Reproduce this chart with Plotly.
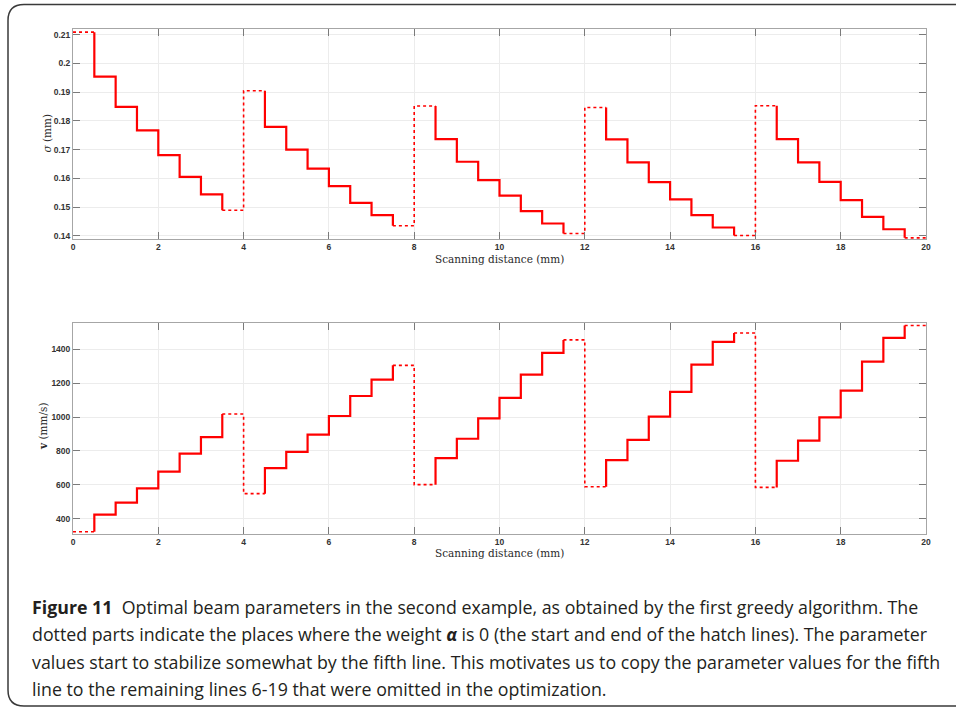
import plotly.graph_objects as go

# ---------------- data ----------------
segment_starts = [0.0, 0.5, 1.0, 1.5, 2.0, 2.5, 3.0, 3.5, 4.0, 4.5,
                  5.0, 5.5, 6.0, 6.5, 7.0, 7.5, 8.0, 8.5, 9.0, 9.5,
                  10.0, 10.5, 11.0, 11.5, 12.0, 12.5, 13.0, 13.5, 14.0, 14.5,
                  15.0, 15.5, 16.0, 16.5, 17.0, 17.5, 18.0, 18.5, 19.0, 19.5]
segment_end = 20.0

sigma_mm = [0.2109, 0.1954, 0.1849, 0.1767, 0.1681, 0.1605, 0.1544, 0.1489,
            0.1905, 0.1779, 0.1700, 0.1634, 0.1573, 0.1515, 0.1472, 0.1435,
            0.1852, 0.1737, 0.1658, 0.1594, 0.1540, 0.1486, 0.1443, 0.1408,
            0.1847, 0.1736, 0.1656, 0.1587, 0.1527, 0.1472, 0.1429, 0.1401,
            0.1853, 0.1737, 0.1656, 0.1588, 0.1524, 0.1466, 0.1423, 0.1393]

speed_mm_s = [323, 424, 495, 579, 678, 784, 882, 1018,
              548, 699, 794, 896, 1006, 1124, 1221, 1305,
              601, 758, 872, 992, 1113, 1250, 1378, 1455,
              589, 746, 865, 1002, 1148, 1309, 1443, 1496,
              585, 742, 861, 998, 1156, 1327, 1467, 1540]

# segments where the weight alpha is 0 (drawn dotted)
zero_weight_segments = [0, 7, 8, 15, 16, 23, 24, 31, 32, 39]

x_ticks = [0, 2, 4, 6, 8, 10, 12, 14, 16, 18, 20]
sigma_ticks = [0.14, 0.15, 0.16, 0.17, 0.18, 0.19, 0.2, 0.21]
speed_ticks = [400, 600, 800, 1000, 1200, 1400]

caption_lines = [
    "<b>Figure 11</b>  Optimal beam parameters in the second example, as obtained by the first greedy algorithm. The",
    "dotted parts indicate the places where the weight <b><i>α</i></b> is 0 (the start and end of the hatch lines). The parameter",
    "values start to stabilize somewhat by the fifth line. This motivates us to copy the parameter values for the fifth",
    "line to the remaining lines 6-19 that were omitted in the optimization.",
]

W, H = 956, 708
RED = "rgb(255,0,0)"


def step_paths(values):
    """Split the step curve into solid and dotted polylines."""
    edges = []
    n = len(values)
    ends = segment_starts[1:] + [segment_end]
    for i in range(n):
        dotted = i in zero_weight_segments
        edges.append((dotted, [(segment_starts[i], values[i]), (ends[i], values[i])]))
        if i + 1 < n:
            vd = dotted and (i + 1) in zero_weight_segments
            edges.append((vd, [(ends[i], values[i]), (ends[i], values[i + 1])]))
    out = {True: ([], []), False: ([], [])}
    cur_style, cur = None, []
    for style, pts in edges:
        if style == cur_style:
            cur.append(pts[1])
        else:
            if cur:
                xs, ys = out[cur_style]
                xs.extend([p[0] for p in cur] + [None])
                ys.extend([p[1] for p in cur] + [None])
            cur_style, cur = style, list(pts)
    xs, ys = out[cur_style]
    xs.extend([p[0] for p in cur] + [None])
    ys.extend([p[1] for p in cur] + [None])
    return out


fig = go.Figure()
for values, xa, ya in [(sigma_mm, "x", "y"), (speed_mm_s, "x2", "y2")]:
    paths = step_paths(values)
    fig.add_trace(go.Scatter(x=paths[False][0], y=paths[False][1], mode="lines",
                             line=dict(color=RED, width=2.2), xaxis=xa, yaxis=ya,
                             showlegend=False, hoverinfo="skip"))
    fig.add_trace(go.Scatter(x=paths[True][0], y=paths[True][1], mode="lines",
                             line=dict(color=RED, width=1.6, dash="dot"), xaxis=xa, yaxis=ya,
                             showlegend=False, hoverinfo="skip"))


def px_x(p):
    return p / W


def px_y(p):
    return 1 - p / H


tickfont = dict(family="Liberation Sans, Arial, sans-serif", size=8.5, color="#333333", weight="bold")
axis_common = dict(showline=True, linecolor="#a6a6a6", linewidth=1, mirror="ticks",
                   ticks="inside", ticklen=7, tickcolor="#7a7a7a", tickwidth=1,
                   showgrid=True, gridcolor="#ececec", gridwidth=1, zeroline=False,
                   tickfont=tickfont, automargin=False)

x_dom = [px_x(73), px_x(926)]
fig.update_layout(
    width=W, height=H, margin=dict(l=0, r=0, t=0, b=0),
    paper_bgcolor="white", plot_bgcolor="white",
    xaxis=dict(domain=x_dom, range=[0, 20], tickvals=x_ticks, anchor="y", **axis_common),
    yaxis=dict(domain=[px_y(239), px_y(29.3)], range=[0.1389, 0.2119], tickvals=sigma_ticks,
               anchor="x", **axis_common),
    xaxis2=dict(domain=x_dom, range=[0, 20], tickvals=x_ticks, anchor="y2", **axis_common),
    yaxis2=dict(domain=[px_y(534), px_y(323.3)], range=[310, 1553], tickvals=speed_ticks,
                anchor="x2", **axis_common),
)

title_font = dict(family="DejaVu Serif, serif", size=10.5, color="#2a2a2a")
annotations = [
    dict(text="Scanning distance (mm)", x=px_x(499.5), y=px_y(259), xref="paper", yref="paper",
         showarrow=False, xanchor="center", yanchor="middle", font=title_font),
    dict(text="Scanning distance (mm)", x=px_x(499.5), y=px_y(553), xref="paper", yref="paper",
         showarrow=False, xanchor="center", yanchor="middle", font=title_font),
    dict(text="<i>σ</i> (mm)", x=px_x(46.5), y=px_y(133), xref="paper", yref="paper",
         showarrow=False, xanchor="center", yanchor="middle", textangle=-90, font=title_font),
    dict(text="<b>v</b> (mm/s)", x=px_x(43), y=px_y(427), xref="paper", yref="paper",
         showarrow=False, xanchor="center", yanchor="middle", textangle=-90, font=title_font),
]
cap_font = dict(family="Open Sans, Noto Sans, sans-serif", size=17.8, color="#231f20")
for i, line in enumerate(caption_lines):
    annotations.append(dict(text=line, x=px_x(30), y=px_y(607 + 27.3 * i), xref="paper", yref="paper",
                            showarrow=False, xanchor="left", yanchor="middle", align="left",
                            font=cap_font))
fig.update_layout(annotations=annotations)

# rounded frame around the whole figure (partly outside the visible area on the right)
L, T, R, B, r = 8, 4.5, 985, 706, 16
path = (f"M {px_x(R)},{px_y(T)} L {px_x(L + r)},{px_y(T)} "
        f"Q {px_x(L)},{px_y(T)} {px_x(L)},{px_y(T + r)} "
        f"L {px_x(L)},{px_y(B - r)} Q {px_x(L)},{px_y(B)} {px_x(L + r)},{px_y(B)} "
        f"L {px_x(R)},{px_y(B)}")
fig.add_shape(type="path", path=path, xref="paper", yref="paper",
              line=dict(color="#3a3a3a", width=1.5))

fig.write_html("out.html", config={"displayModeBar": False},
               post_script="document.body.style.margin='0';document.body.style.overflow='hidden';")
